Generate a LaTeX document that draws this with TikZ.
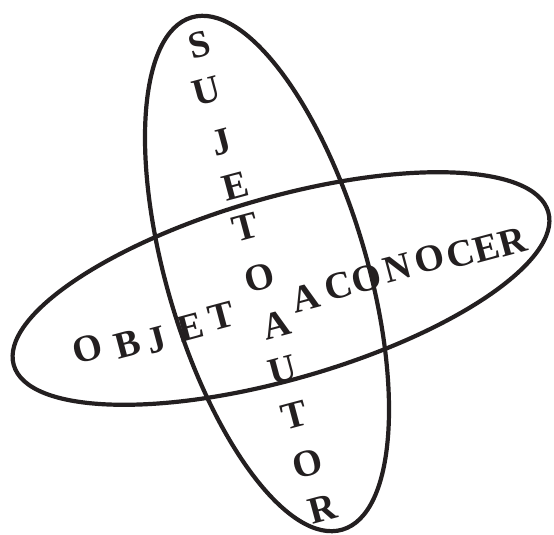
\documentclass[tikz,border=0pt]{standalone}
\usepackage{fontspec}
\setmainfont{Liberation Serif}
\definecolor{ink}{HTML}{231F20}
\begin{document}
\begin{tikzpicture}[x=1pt,y=-1pt,
  ltr/.style={font=\fontsize{38}{38}\selectfont\bfseries, rotate=15, inner sep=0pt, text=ink},
  oval/.style={draw=ink, line width=4.2pt}]
\useasboundingbox (0,0) rectangle (554,535);
% tall ellipse
\draw[oval, rotate around={16.4:(267,273.5)}] (267,273.5) ellipse [x radius=100pt, y radius=267pt];
% wide ellipse
\draw[oval, rotate around={16:(281,288.5)}] (281,288.5) ellipse [x radius=278pt, y radius=91pt];
% vertical word
\node[ltr] (v1) at (199,45) {S};
\node[ltr] (v2) at (207,91) {U};
\node[ltr] (v3) at (222,142) {J};
\node[ltr] (v4) at (236,186) {E};
\node[ltr] (v5) at (246,227) {T};
\node[ltr] (v6) at (260,278) {O};
\node[ltr] (v7) at (277,325) {A};
\node[ltr] (v8) at (283,370) {U};
\node[ltr] (v9) at (295,415) {T};
\node[ltr] (v10) at (308,464) {O};
\node[ltr] (v11) at (323,509) {R};
% horizontal word
\node[ltr] (h1) at (88,349) {O};
\node[ltr] (h2) at (128,344) {B};
\node[ltr] (h3) at (157,340) {J};
\node[ltr] (h4) at (191,327) {E};
\node[ltr] (h5) at (222,316) {T};
\node[ltr] (h6) at (306,298) {A};
\node[ltr] (h7) at (339,286) {C};
\node[ltr] (h8) at (367,279) {O};
\node[ltr] (h9) at (398,268) {N};
\node[ltr] (h10) at (430,259) {O};
\node[ltr] (h11) at (461,254) {C};
\node[ltr] (h12) at (487,248) {E};
\node[ltr] (h13) at (513,242) {R};
\end{tikzpicture}
\end{document}
